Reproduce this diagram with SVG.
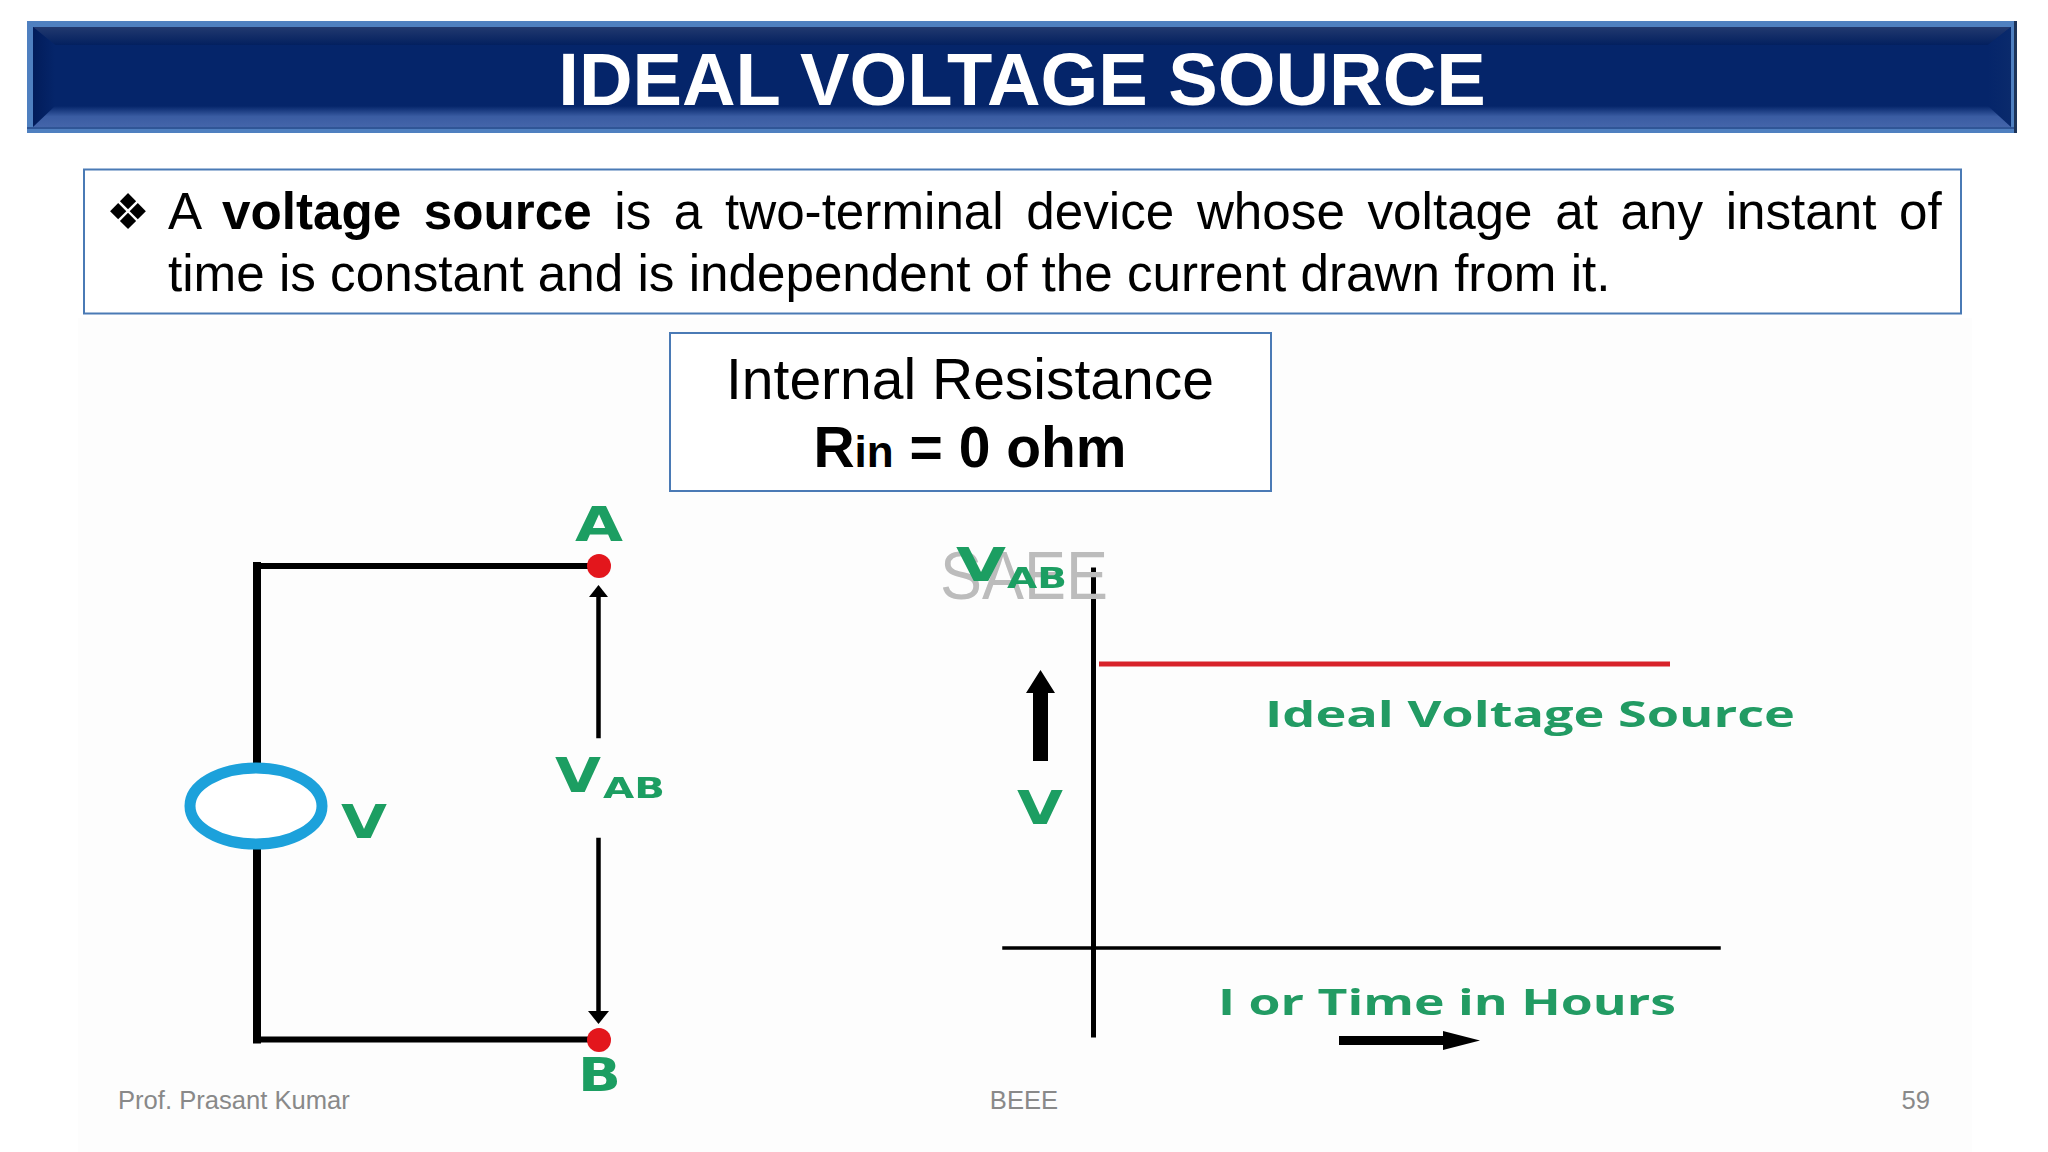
<svg xmlns="http://www.w3.org/2000/svg" width="2048" height="1152" viewBox="0 0 2048 1152">
<style>
.ar{font-family:"Liberation Sans",Arial,sans-serif}
.g{font-family:"Open Sans","DejaVu Sans",sans-serif;font-weight:700;fill:#219b64;filter:url(#soft)}
.gd{font-family:"DejaVu Sans",sans-serif;font-weight:700;fill:#1f9e62;filter:url(#soft)}
.box{fill:#fff;stroke:#4a7ab5;stroke-width:2}
.foot{font-family:"Liberation Sans",Arial,sans-serif;font-size:25.600px;fill:#898989}
.wire{stroke:#000;fill:none;stroke-linecap:square}
</style>
<defs>
<filter id="soft" x="-10%" y="-10%" width="120%" height="120%"><feGaussianBlur stdDeviation="0.6"/></filter>
<linearGradient id="top" x1="0" y1="0" x2="0" y2="1"><stop offset="0" stop-color="#22396f"/><stop offset="1" stop-color="#03205f"/></linearGradient>
<linearGradient id="bot" x1="0" y1="0" x2="0" y2="1"><stop offset="0" stop-color="#05256a"/><stop offset=".5" stop-color="#3a5ca2"/><stop offset="1" stop-color="#4465aa"/></linearGradient>
<linearGradient id="lft" x1="0" y1="0" x2="1" y2="0"><stop offset="0" stop-color="#021c5a"/><stop offset="1" stop-color="#05256a"/></linearGradient>
<linearGradient id="rgt" x1="0" y1="0" x2="1" y2="0"><stop offset="0" stop-color="#05256a"/><stop offset="1" stop-color="#0a2a6c"/></linearGradient>
</defs>
<rect width="2048" height="1152" fill="#fff"/>
<rect x="78" y="318" width="1894" height="834" fill="#fdfdfd"/>
<g id="title">
<rect x="27" y="21" width="1990" height="112" fill="#4f80c0"/>
<rect x="27" y="127" width="1990" height="2" fill="#2f5596"/>
<rect x="2014" y="21" width="3" height="112" fill="#1c3358"/>
<rect x="33" y="27" width="1978" height="100" fill="#05256a"/>
<polygon points="33,27 2011,27 1988,45 55,45" fill="url(#top)"/>
<polygon points="33,27 55,45 55,106 33,127" fill="url(#lft)"/>
<polygon points="2011,27 1988,45 1988,106 2011,127" fill="url(#rgt)"/>
<polygon points="33,127 55,106 1988,106 2011,127" fill="url(#bot)"/>
<text class="ar" x="1022" y="105" font-size="74.200" font-weight="700" fill="#fff" text-anchor="middle">IDEAL VOLTAGE SOURCE</text>
</g>
<g id="definition">
<rect class="box" x="84" y="169.500" width="1877" height="144"/>
<text class="ar" x="106" y="229" font-size="49" fill="#000">❖</text>
<text class="ar" x="168" y="229" font-size="51.200" word-spacing="8.400" fill="#000">A <tspan font-weight="700">voltage source</tspan> is a two-terminal device whose voltage at any instant of</text>
<text class="ar" x="168" y="291" font-size="51.200" fill="#000">time is constant and is independent of the current drawn from it.</text>
</g>
<g id="resistance">
<rect class="box" x="670" y="333" width="601" height="158"/>
<text class="ar" x="970" y="398.500" font-size="57" fill="#000" text-anchor="middle">Internal Resistance</text>
<text class="ar" x="970" y="467" font-size="57" font-weight="700" fill="#000" text-anchor="middle">R<tspan font-size="44">in</tspan> = 0 ohm</text>
</g>
<g id="connectors" filter="url(#soft)">
<path class="wire" stroke-width="6" d="M257 566H590M257 1039.500H590"/>
<path class="wire" stroke-width="8" d="M257 566V770M257 845V1039.500"/>
<path class="wire" stroke-width="4.500" stroke-linecap="butt" d="M598.500 592V736M598.500 840V1016"/>
<polygon points="598.500,585 589,597 608,597"/>
<polygon points="598.500,1024 588,1011 609,1011"/>
<path class="wire" stroke-width="5" stroke-linecap="butt" d="M1093.500 570V1035"/>
<path class="wire" stroke-width="3.500" stroke-linecap="butt" d="M1004 948H1719"/>
<path stroke="#d8202c" stroke-width="5" d="M1099 664H1670" fill="none"/>
<polygon points="1033,761 1048,761 1048,693 1055,693 1040.500,670 1026,693 1033,693"/>
<polygon points="1339,1036 1443,1036 1443,1031 1480,1040.500 1443,1050 1443,1045 1339,1045"/>
</g>
<g id="source">
<ellipse cx="256" cy="806" rx="66" ry="38" fill="#fff" stroke="#1ba1db" stroke-width="11" filter="url(#soft)"/>
<text class="gd" x="341" y="838" font-size="47" textLength="46" lengthAdjust="spacingAndGlyphs">V</text>
</g>
<g id="terminal-a">
<circle cx="599" cy="566" r="12" fill="#e3141f" filter="url(#soft)"/>
<text class="gd" x="575" y="541" font-size="48" textLength="48" lengthAdjust="spacingAndGlyphs">A</text>
</g>
<g id="terminal-b">
<circle cx="599" cy="1040" r="12" fill="#e3141f" filter="url(#soft)"/>
<text class="gd" x="578" y="1091" font-size="47" textLength="43" lengthAdjust="spacingAndGlyphs">B</text>
</g>
<g id="vab-circuit">
<text class="gd" x="555" y="792" font-size="48" textLength="46" lengthAdjust="spacingAndGlyphs">V</text>
<text class="gd" x="603" y="797.500" font-size="29" textLength="62" lengthAdjust="spacingAndGlyphs">AB</text>
</g>
<g id="watermark">
<text class="ar" x="940" y="599" font-size="68" fill="#bcbcbc" textLength="168" lengthAdjust="spacingAndGlyphs" filter="url(#soft)">SAEE</text>
</g>
<g id="vab-graph">
<text class="gd" x="956" y="581" font-size="46" textLength="50" lengthAdjust="spacingAndGlyphs">V</text>
<text class="gd" x="1007" y="588" font-size="29" textLength="60" lengthAdjust="spacingAndGlyphs">AB</text>
</g>
<g id="graph-labels">
<text class="gd" x="1017" y="824" font-size="46" textLength="46" lengthAdjust="spacingAndGlyphs">V</text>
<text class="g" x="1265" y="727" font-size="35" textLength="530" lengthAdjust="spacingAndGlyphs">Ideal Voltage Source</text>
<text class="g" x="1218" y="1015" font-size="35" textLength="458" lengthAdjust="spacingAndGlyphs">I or Time in Hours</text>
</g>
<g id="footer">
<text class="foot" x="118" y="1108.500">Prof. Prasant Kumar</text>
<text class="foot" x="1024" y="1108.500" text-anchor="middle">BEEE</text>
<text class="foot" x="1930" y="1108.500" text-anchor="end">59</text>
</g>
</svg>
